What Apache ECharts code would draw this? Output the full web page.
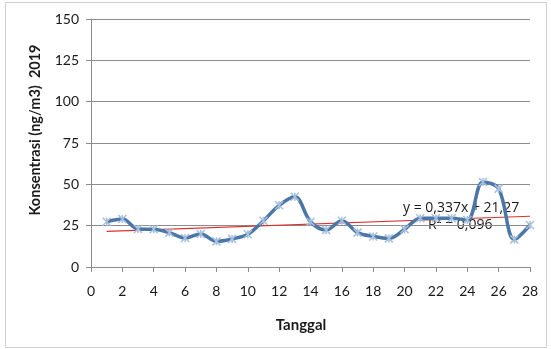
<!DOCTYPE html>
<html>
<head>
<meta charset="utf-8">
<script src="https://cdn.jsdelivr.net/npm/echarts@6/dist/echarts.min.js"></script>
<style>
  html, body { margin: 0; padding: 0; background: #fff; }
  #chart { width: 551px; height: 349px; }
</style>
</head>
<body>
<div id="chart"></div>
<script>
// Daily concentration readings (ng/m3), 2019
const days = [1, 2, 3, 4, 5, 6, 7, 8, 9, 10, 11, 12, 13, 14, 15, 16, 17, 18, 19, 20, 21, 22, 23, 24, 25, 26, 27, 28];
const concentration = [27.4, 29, 23, 22.8, 20.8, 17.5, 20, 15.5, 17, 19.8, 28, 37.3, 42.5, 27.4, 22.4, 28, 20.8, 18.5, 17.3, 22.8, 29.5, 29.5, 29.5, 28.4, 51.4, 47.4, 16.7, 25.4];

// Linear trend as printed on the chart
const trendSlope = 0.337;
const trendIntercept = 21.27;
const trendLabel = ['y = 0,337x + 21,27', 'R² = 0,096'];

const yTicks = [0, 25, 50, 75, 100, 125, 150];
const xTicks = [0, 2, 4, 6, 8, 10, 12, 14, 16, 18, 20, 22, 24, 26, 28];

const xTitle = 'Tanggal';
const yTitle = 'Konsentrasi (ng/m3)  2019';

const fontFamily = 'Lato, "Open Sans", sans-serif';
const noteFont = '"Open Sans", Lato, sans-serif';

const seriesData = days.map((d, i) => [d, concentration[i]]);
const trendStart = days[0];
const trendEnd = days[days.length - 1];
const trendData = [
  [trendStart, trendSlope * trendStart + trendIntercept],
  [trendEnd, trendSlope * trendEnd + trendIntercept]
];

const chart = echarts.init(document.getElementById('chart'), null, { renderer: 'canvas' });

chart.setOption({
  animation: false,
  backgroundColor: '#fff',
  grid: { left: 91, right: 21, top: 19, bottom: 82 },
  graphic: [
    {
      type: 'rect',
      shape: { x: 5.5, y: 2.5, width: 541, height: 345 },
      style: { fill: 'none', stroke: '#cfcfcf', lineWidth: 1 },
      silent: true
    },
    {
      type: 'text',
      x: 35, y: 130,
      rotation: Math.PI / 2,
      style: {
        text: yTitle, font: 'bold 14.5px ' + fontFamily, fill: '#1a1a1a',
        align: 'center', verticalAlign: 'middle'
      }
    },
    {
      type: 'text',
      x: 301, y: 325,
      style: {
        text: xTitle, font: 'bold 15px ' + fontFamily, fill: '#1a1a1a',
        align: 'center', verticalAlign: 'middle'
      }
    },
    {
      type: 'text',
      x: 403, y: 208,
      style: { text: trendLabel[0], font: '14px ' + noteFont, fill: '#1a1a1a', verticalAlign: 'middle' }
    },
    {
      type: 'text',
      x: 428, y: 225,
      style: { text: trendLabel[1], font: '14px ' + noteFont, fill: '#1a1a1a', verticalAlign: 'middle' }
    }
  ],
  xAxis: {
    type: 'value',
    min: xTicks[0],
    max: xTicks[xTicks.length - 1],
    interval: 2,
    axisLine: { lineStyle: { color: '#8c8c8c', width: 1 } },
    axisTick: { show: true, inside: false, length: 5, lineStyle: { color: '#8c8c8c' } },
    axisLabel: { fontFamily, fontSize: 14, color: '#1a1a1a', margin: 17 },
    splitLine: { show: false }
  },
  yAxis: {
    type: 'value',
    min: yTicks[0],
    max: yTicks[yTicks.length - 1],
    interval: 25,
    axisLine: { show: true, lineStyle: { color: '#8c8c8c', width: 1 } },
    axisTick: { show: true, inside: false, length: 5, lineStyle: { color: '#8c8c8c' } },
    axisLabel: { fontFamily, fontSize: 14, color: '#1a1a1a', margin: 12 },
    splitLine: { show: true, lineStyle: { color: '#8c8c8c', width: 1 } }
  },
  series: [
    {
      type: 'line',
      data: seriesData,
      smooth: 0.35,
      symbol: 'path://M0,0 L10,10 M10,0 L0,10 M5,0 L5,10',
      symbolSize: 8,
      itemStyle: { color: '#c5d6ea', borderColor: '#a7bfdc', borderWidth: 1.5 },
      lineStyle: { color: '#4a76a8', width: 3.5 },
      z: 3
    },
    {
      type: 'line',
      data: trendData,
      symbol: 'none',
      lineStyle: { color: '#e0302c', width: 1.2 },
      z: 2
    }
  ]
});
</script>
</body>
</html>
